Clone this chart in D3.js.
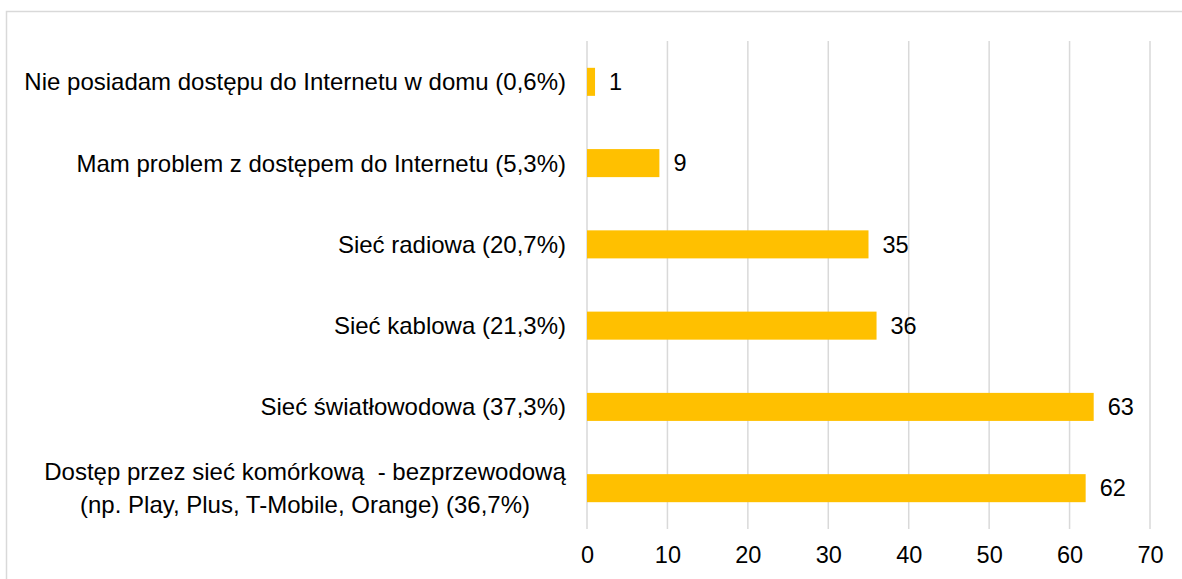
<!DOCTYPE html>
<html>
<head>
<meta charset="utf-8">
<script src="https://cdn.jsdelivr.net/npm/d3@7"></script>
<style>
  body { margin: 0; background: #fff; }
  svg { display: block; font-family: "Liberation Sans", Arial, sans-serif; }
  text { white-space: pre; }
</style>
</head>
<body>
<script>
// categories (top to bottom), each label split into lines
var categories = [
  ["Nie posiadam dostępu do Internetu w domu (0,6%)"],
  ["Mam problem z dostępem do Internetu (5,3%)"],
  ["Sieć radiowa (20,7%)"],
  ["Sieć kablowa (21,3%)"],
  ["Sieć światłowodowa (37,3%)"],
  ["Dostęp przez sieć komórkową  - bezprzewodową", "(np. Play, Plus, T-Mobile, Orange) (36,7%)"]
];
var values = [1, 9, 35, 36, 63, 62];
var ticks = [0, 10, 20, 30, 40, 50, 60, 70];

var width = 1182, height = 579;
var plotLeft = 587, plotRight = 1150, plotTop = 41, plotBottom = 529;
var fs = 23.5;

var svg = d3.select("body").append("svg")
    .attr("width", width)
    .attr("height", height);

// outer frame
svg.append("rect")
    .attr("x", 6.5).attr("y", 11.5)
    .attr("width", 1200).attr("height", 600)
    .attr("fill", "none")
    .attr("stroke", "#d9d9d9")
    .attr("stroke-width", 1.5);

var x = d3.scaleLinear().domain([0, 70]).range([plotLeft, plotRight]);
var y = d3.scaleBand().domain(d3.range(categories.length))
    .range([plotTop, plotBottom]).paddingInner(0.655).paddingOuter(0.33);

// gridlines
svg.append("g").selectAll("line")
    .data(ticks)
  .enter().append("line")
    .attr("x1", function(d) { return x(d); })
    .attr("x2", function(d) { return x(d); })
    .attr("y1", plotTop).attr("y2", plotBottom)
    .attr("stroke", "#d9d9d9")
    .attr("stroke-width", 1.5);

// x axis labels
var xAxis = svg.append("g")
    .attr("transform", "translate(0," + plotBottom + ")")
    .call(d3.axisBottom(x).tickValues(ticks).tickSize(0).tickPadding(17));
xAxis.select(".domain").remove();
xAxis.selectAll("text")
    .attr("font-size", fs)
    .attr("font-family", "Liberation Sans, Arial, sans-serif")
    .attr("fill", "#000");

// bars
svg.append("g").selectAll("rect")
    .data(values)
  .enter().append("rect")
    .attr("x", x(0))
    .attr("y", function(d, i) { return y(i); })
    .attr("width", function(d) { return x(d) - x(0); })
    .attr("height", y.bandwidth())
    .attr("fill", "#ffc000");

// value labels
svg.append("g").selectAll("text")
    .data(values)
  .enter().append("text")
    .attr("x", function(d) { return x(d) + 14; })
    .attr("y", function(d, i) { return y(i) + y.bandwidth() / 2; })
    .attr("dy", "0.35em")
    .attr("font-size", fs)
    .text(function(d) { return d; });

// category labels
var cat = svg.append("g").selectAll("text")
    .data(categories)
  .enter().append("text")
    .attr("font-size", 24)
    .attr("y", function(d, i) { return y(i) + y.bandwidth() / 2; });

cat.each(function(lines, i) {
  var t = d3.select(this);
  var multi = lines.length > 1;
  t.attr("text-anchor", multi ? "middle" : "end");
  lines.forEach(function(l, k) {
    t.append("tspan")
      .attr("x", multi ? 305 : 566)
      .attr("dy", k === 0 ? (0.35 - (lines.length - 1) * 0.69) + "em" : "1.38em")
      .text(l);
  });
});
</script>
</body>
</html>
